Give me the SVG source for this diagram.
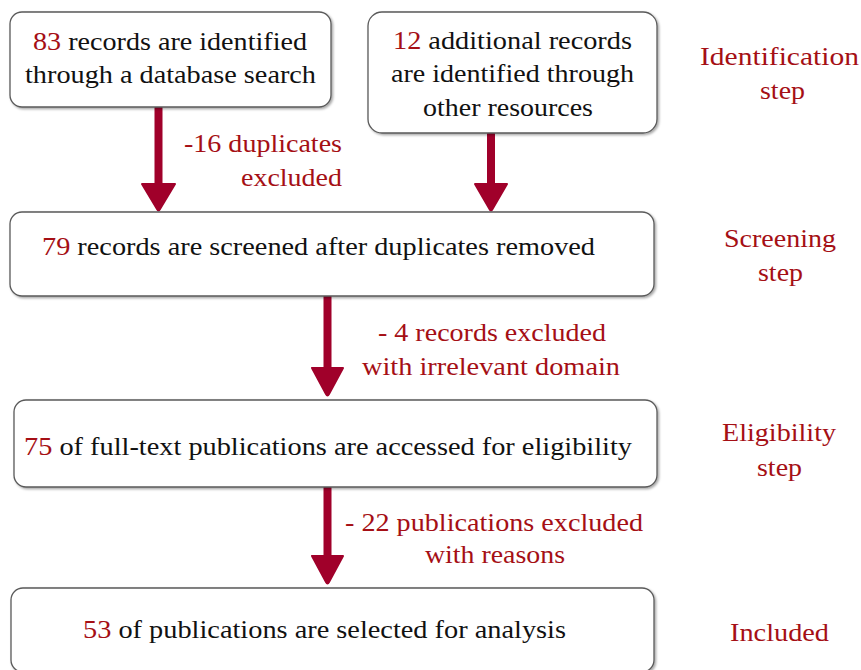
<svg xmlns="http://www.w3.org/2000/svg" width="861" height="670" viewBox="0 0 861 670" font-family="Liberation Serif, Times New Roman, serif" font-size="26">
<defs>
<filter id="sh" x="-5%" y="-5%" width="110%" height="115%">
<feDropShadow dx="1.5" dy="1.5" stdDeviation="1" flood-color="#000" flood-opacity="0.35"/>
</filter>
</defs>
<style>
.box{fill:#fff;stroke:#5a5a5a;stroke-width:1.3;filter:url(#sh)}
.t{fill:#111}
.r{fill:#a50f15}
.lbl{fill:#a50f15}
.shaft{stroke:#a0002a;stroke-width:8;stroke-linecap:round}
.head{fill:#a0002a;stroke:#a0002a;stroke-width:2;stroke-linejoin:round}
</style>
<rect width="861" height="670" fill="#fff"/>

<g id="connectors">
<line class="shaft" x1="158.5" y1="108" x2="158.5" y2="186"/>
<path class="head" d="M142,184 L175,184 L160,209 Q158.5,212 157,209 Z"/>
<line class="shaft" x1="491" y1="134" x2="491" y2="186"/>
<path class="head" d="M475,184 L507,184 L492.5,209 Q491,212 489.5,209 Z"/>
<line class="shaft" x1="327.5" y1="297" x2="327.5" y2="370"/>
<path class="head" d="M312,368 L343,368 L329,394 Q327.5,397 326,394 Z"/>
<line class="shaft" x1="327.5" y1="488" x2="327.5" y2="558"/>
<path class="head" d="M312,556 L343,556 L329,582 Q327.5,585 326,582 Z"/>
<text class="lbl" x="184" y="152" textLength="158" lengthAdjust="spacingAndGlyphs">-16 duplicates</text>
<text class="lbl" x="241" y="186" textLength="101" lengthAdjust="spacingAndGlyphs">excluded</text>
<text class="lbl" x="378" y="341" textLength="228" lengthAdjust="spacingAndGlyphs">- 4 records excluded</text>
<text class="lbl" x="362" y="375" textLength="258" lengthAdjust="spacingAndGlyphs">with irrelevant domain</text>
<text class="lbl" x="345" y="531" textLength="298" lengthAdjust="spacingAndGlyphs">- 22 publications excluded</text>
<text class="lbl" x="425" y="563" textLength="140" lengthAdjust="spacingAndGlyphs">with reasons</text>
</g>

<g id="n1">
<rect class="box" x="10" y="12" width="321" height="95" rx="12"/>
<text class="t" x="33" y="50" textLength="274" lengthAdjust="spacingAndGlyphs"><tspan class="r">83</tspan> records are identified</text>
<text class="t" x="25" y="83" textLength="291" lengthAdjust="spacingAndGlyphs">through a database search</text>
</g>

<g id="n2">
<rect class="box" x="368" y="12" width="289" height="121" rx="14"/>
<text class="t" x="393" y="49" textLength="239" lengthAdjust="spacingAndGlyphs"><tspan class="r">12</tspan> additional records</text>
<text class="t" x="391" y="82" textLength="243" lengthAdjust="spacingAndGlyphs">are identified through</text>
<text class="t" x="423" y="116" textLength="170" lengthAdjust="spacingAndGlyphs">other resources</text>
</g>

<g id="n3">
<rect class="box" x="10" y="212" width="644" height="84" rx="12"/>
<text class="t" x="42" y="255" textLength="553" lengthAdjust="spacingAndGlyphs"><tspan class="r">79</tspan> records are screened after duplicates removed</text>
</g>

<g id="n4">
<rect class="box" x="14" y="400" width="643" height="87" rx="12"/>
<text class="t" x="24" y="455" textLength="608" lengthAdjust="spacingAndGlyphs"><tspan class="r">75</tspan> of full-text publications are accessed for eligibility</text>
</g>

<g id="n5">
<rect class="box" x="11" y="588" width="643" height="84" rx="12"/>
<text class="t" x="83" y="638" textLength="483" lengthAdjust="spacingAndGlyphs"><tspan class="r">53</tspan> of publications are selected for analysis</text>
</g>

<g id="stages">
<text class="lbl" x="700" y="65" textLength="159" lengthAdjust="spacingAndGlyphs">Identification</text>
<text class="lbl" x="760" y="99" textLength="45" lengthAdjust="spacingAndGlyphs">step</text>
<text class="lbl" x="724" y="247" textLength="112" lengthAdjust="spacingAndGlyphs">Screening</text>
<text class="lbl" x="758" y="281" textLength="45" lengthAdjust="spacingAndGlyphs">step</text>
<text class="lbl" x="722" y="441" textLength="114" lengthAdjust="spacingAndGlyphs">Eligibility</text>
<text class="lbl" x="757" y="476" textLength="45" lengthAdjust="spacingAndGlyphs">step</text>
<text class="lbl" x="730" y="641" textLength="99" lengthAdjust="spacingAndGlyphs">Included</text>
</g>
</svg>
